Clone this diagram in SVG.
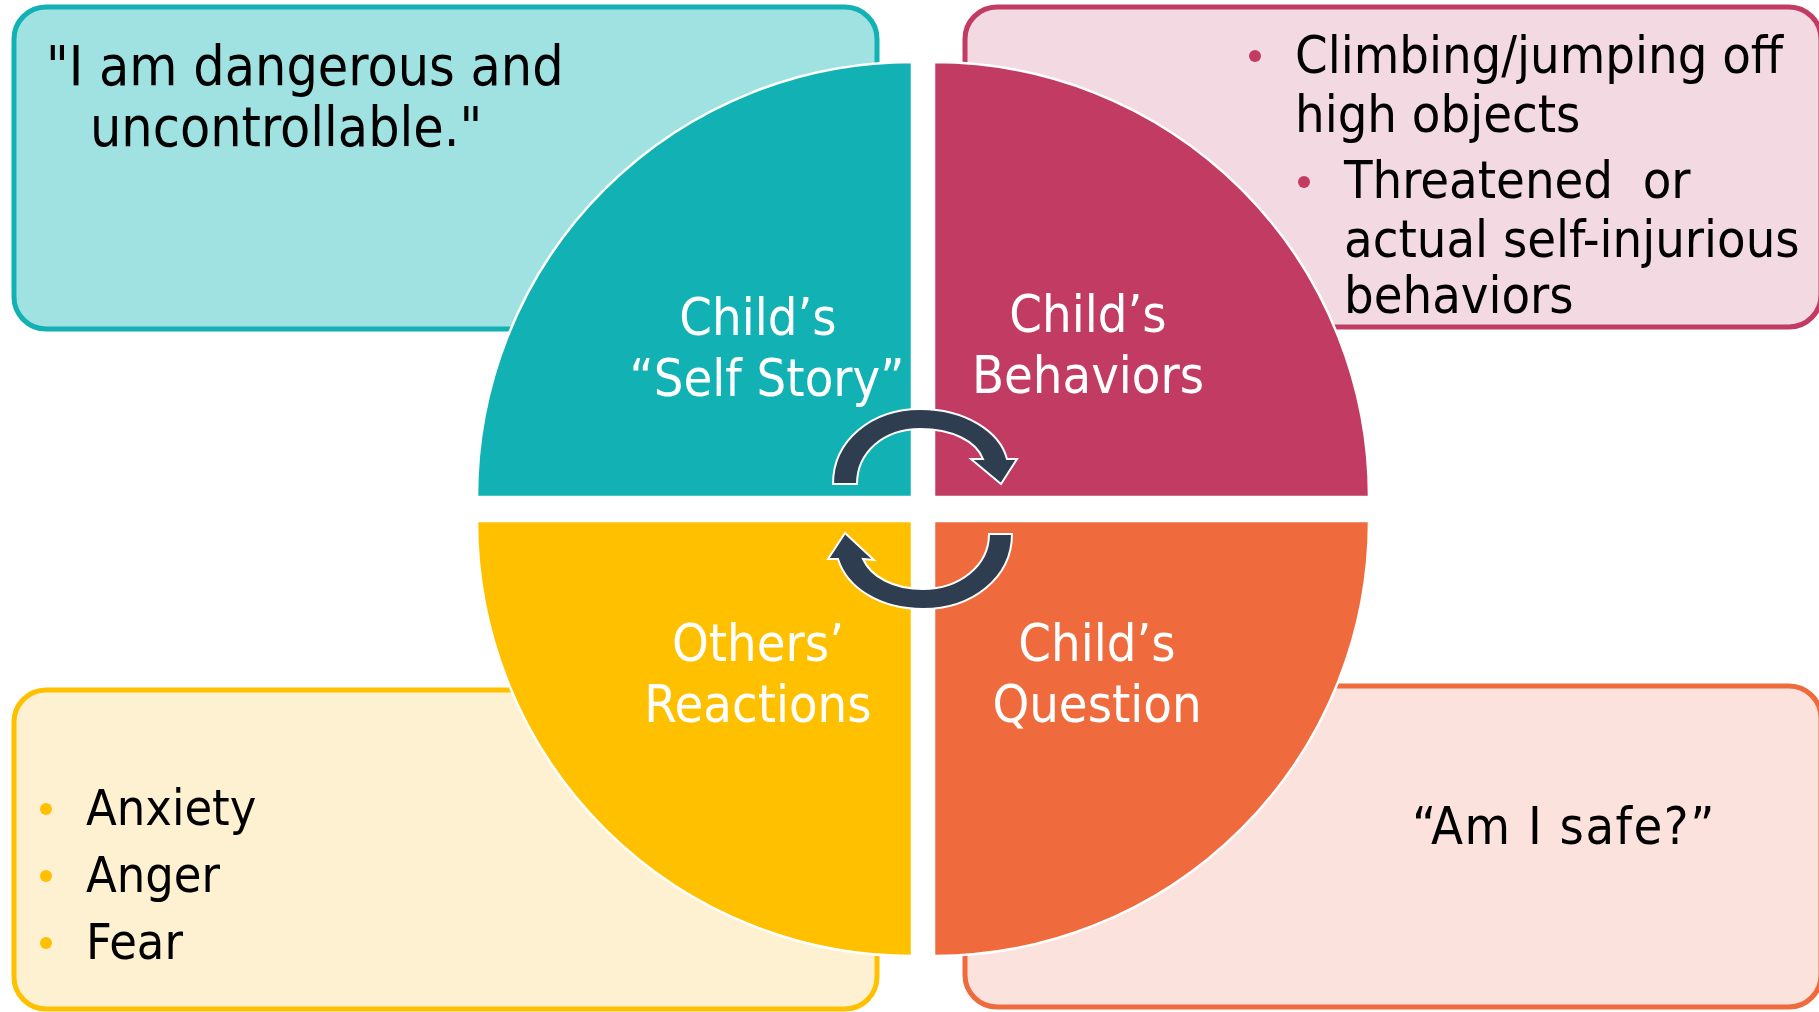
<svg xmlns="http://www.w3.org/2000/svg" width="1819" height="1012" viewBox="0 0 1819 1012">
  <style>
    .box { stroke-width: 5; }
    .quad { stroke: #ffffff; stroke-width: 2.5; }
    .txt { font-family: "DejaVu Sans Condensed", "DejaVu Sans", sans-serif; font-stretch: condensed; fill: #000000; white-space: pre; }
    .lbl { font-family: "DejaVu Sans Condensed", "DejaVu Sans", sans-serif; font-stretch: condensed; fill: #ffffff; font-size: 52px; text-anchor: middle; }
    .arrow { fill: #2e3e50; stroke: #ffffff; stroke-width: 2; stroke-linejoin: miter; }
  </style>
  <rect width="1819" height="1012" fill="#ffffff"/>

  <!-- detail boxes -->
  <g id="box-self-story">
    <rect class="box" x="14" y="7" width="863" height="322" rx="32" fill="#a0e1e1" stroke="#12b1b3"/>
    <text class="txt" font-size="55"><tspan x="46" y="85">"I am dangerous and</tspan><tspan x="90" y="146">uncontrollable."</tspan></text>
  </g>
  <g id="box-behaviors">
    <rect class="box" x="965" y="7" width="856" height="320" rx="32" fill="#f3d9e1" stroke="#c23b62"/>
    <circle cx="1255" cy="56" r="6" fill="#c23b62"/>
    <circle cx="1304" cy="182" r="6" fill="#c23b62"/>
    <text class="txt" font-size="52"><tspan x="1295" y="73">Climbing/jumping off</tspan><tspan x="1295" y="132">high objects</tspan><tspan x="1344" y="198">Threatened  or</tspan><tspan x="1344" y="257">actual self-injurious</tspan><tspan x="1344" y="313">behaviors</tspan></text>
  </g>
  <g id="box-reactions">
    <rect class="box" x="14" y="690" width="863" height="319" rx="32" fill="#fef1d1" stroke="#ffc000"/>
    <circle cx="46" cy="809" r="6" fill="#ffc000"/>
    <circle cx="46" cy="876" r="6" fill="#ffc000"/>
    <circle cx="46" cy="943" r="6" fill="#ffc000"/>
    <text class="txt" font-size="50"><tspan x="86" y="825">Anxiety</tspan><tspan x="86" y="892">Anger</tspan><tspan x="86" y="959">Fear</tspan></text>
  </g>
  <g id="box-question">
    <rect class="box" x="965" y="686" width="856" height="321" rx="32" fill="#fce2dc" stroke="#ef6b3e"/>
    <text class="txt" font-size="52" letter-spacing="1.5" x="1412" y="844">“Am I safe?”</text>
  </g>

  <!-- quarter-circle segments -->
  <g id="quad-self-story">
    <path class="quad" d="M912 497 L477 497 A435 435 0 0 1 912 62 Z" fill="#12b1b3"/>
    <text class="lbl"><tspan x="758" y="335">Child’s</tspan><tspan x="767" y="396">“Self Story”</tspan></text>
  </g>
  <g id="quad-behaviors">
    <path class="quad" d="M934 497 L934 62 A435 435 0 0 1 1369 497 Z" fill="#c23b62"/>
    <text class="lbl"><tspan x="1088" y="332">Child’s</tspan><tspan x="1088" y="393">Behaviors</tspan></text>
  </g>
  <g id="quad-reactions">
    <path class="quad" d="M912 521 L912 956 A435 435 0 0 1 477 521 Z" fill="#ffc000"/>
    <text class="lbl"><tspan x="758" y="661">Others’</tspan><tspan x="758" y="722">Reactions</tspan></text>
  </g>
  <g id="quad-question">
    <path class="quad" d="M934 521 L1369 521 A435 435 0 0 1 934 956 Z" fill="#ef6b3e"/>
    <text class="lbl"><tspan x="1097" y="661">Child’s</tspan><tspan x="1097" y="722">Question</tspan></text>
  </g>

  <!-- cycle arrows -->
  <g id="connectors">
    <path class="arrow" d="M833 484 C833 440 872 409 920 409 C966 409 1000 432 1007 459 L1017 459 L1001 484 L971 459 L983 459 C976 441 952 429 920 429 C884 429 857 452 857 484 Z"/>
    <path class="arrow" d="M1012 534 C1012 578 972 609 923 609 C880 609 847 588 838 559 L828 559 L845 533 L874 560 L863 559 C871 577 894 589 923 589 C959 589 989 566 989 534 Z"/>
  </g>
</svg>
